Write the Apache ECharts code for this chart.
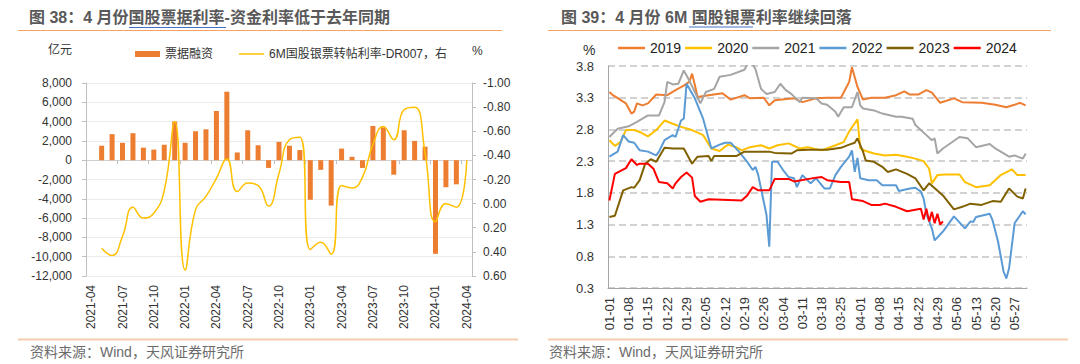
<!DOCTYPE html>
<html><head><meta charset="utf-8">
<script src="https://cdn.jsdelivr.net/npm/echarts@6/dist/echarts.min.js"></script>
<style>html,body{margin:0;padding:0;background:#fff}#c{width:1080px;height:364px}</style>
</head><body><div id="c"></div>
<script>
const FONT = "'Liberation Sans','Noto Sans CJK SC',sans-serif";

// ---------- Left chart (图38) ----------
const monthCats = ['2021-04','2021-05','2021-06','2021-07','2021-08','2021-09','2021-10','2021-11','2021-12',
  '2022-01','2022-02','2022-03','2022-04','2022-05','2022-06','2022-07','2022-08','2022-09','2022-10','2022-11','2022-12',
  '2023-01','2023-02','2023-03','2023-04','2023-05','2023-06','2023-07','2023-08','2023-09','2023-10','2023-11','2023-12',
  '2024-01','2024-02','2024-03','2024-04'];
// 票据融资 (亿元)
const billFinancing = [null,1500,2700,1800,2800,1300,1100,1600,4000,
  1800,3000,3200,5100,7100,800,3100,1550,-800,1900,1500,1050,
  -4100,-1000,-4700,1200,350,-800,3550,3400,-1500,3100,2000,1400,
  -9700,-2800,-2500,null];
// 6M国股银票转帖利率-DR007 (%)
const spreadRate = [null,0.37,0.43,0.27,0.03,0.12,0.08,-0.11,-0.68,
  0.55,0.05,-0.06,-0.21,-0.37,-0.10,-0.17,-0.15,0.02,-0.25,-0.53,-0.55,
  0.38,0.32,0.42,-0.15,-0.13,-0.22,-0.49,-0.64,-0.53,-0.78,-0.80,-0.42,
  0.15,0.00,0.03,-0.36];

// ---------- Right chart (图39) ----------
const s2019 = [['01-01',3.39],['01-02',3.35],['01-07',3.21],['01-09',3.05],['01-10',3.08],['01-11',3.21],['01-13',3.18],['01-15',3.21],['01-18',3.35],['01-22',3.34],['01-25',3.42],['01-28',3.49],['01-30',3.55],['01-31',3.68],['02-01',3.5],['02-02',3.31],['02-06',3.34],['02-11',3.37],['02-14',3.27],['02-19',3.34],['02-21',3.29],['02-26',3.3],['02-28',3.18],['03-01',3.26],['03-08',3.29],['03-11',3.23],['03-16',3.29],['03-20',3.3],['03-25',3.3],['03-28',3.55],['03-29',3.78],['03-31',3.47],['04-02',3.27],['04-05',3.3],['04-10',3.3],['04-14',3.34],['04-17',3.4],['04-19',3.35],['04-22',3.35],['04-25',3.42],['04-27',3.38],['04-30',3.22],['05-05',3.29],['05-08',3.23],['05-15',3.22],['05-20',3.19],['05-24',3.15],['05-27',3.19],['05-29',3.22],['05-31',3.18]];
const s2020 = [['01-01',2.63],['01-03',2.54],['01-05',2.6],['01-07',2.79],['01-10',2.79],['01-12',2.76],['01-15',2.69],['01-18',2.79],['01-21',2.94],['01-24',2.89],['01-27',2.84],['01-31',2.79],['02-04',2.71],['02-07',2.5],['02-10',2.46],['02-13',2.56],['02-16',2.52],['02-18',2.47],['02-21',2.52],['02-25',2.55],['02-28',2.5],['03-02',2.55],['03-06',2.58],['03-10',2.5],['03-13',2.52],['03-18',2.47],['03-23',2.55],['03-26',2.6],['03-28',2.77],['03-31',2.96],['04-01',2.5],['04-03',2.46],['04-06',2.42],['04-10',2.39],['04-14',2.4],['04-18',2.37],['04-21',2.34],['04-24',2.3],['04-26',2.18],['04-27',1.95],['04-29',2.08],['05-02',2.09],['05-07',2.09],['05-09',1.97],['05-13',1.89],['05-18',1.92],['05-22',2.08],['05-26',2.17],['05-28',2.08],['05-31',2.08]];
const s2021 = [['01-01',2.68],['01-04',2.81],['01-08',2.85],['01-11',2.92],['01-15',3.02],['01-19',3.02],['01-21',3.23],['01-22',3.55],['01-24',3.51],['01-26',3.52],['01-28',3.73],['01-30',3.57],['02-01',3.39],['02-03',3.21],['02-05',3.39],['02-08',3.44],['02-10',3.63],['02-14',3.66],['02-19',3.74],['02-21',3.9],['02-23',3.75],['02-25',3.44],['02-27',3.36],['03-01',3.39],['03-03',3.52],['03-05',3.42],['03-07',3.36],['03-10',3.23],['03-11',3.3],['03-16',3.29],['03-18',3.21],['03-20',3.19],['03-23',3.08],['03-24',3.0],['03-26',3.15],['03-29',3.15],['03-31',3.39],['04-01',3.18],['04-02',3.13],['04-06',3.1],['04-09',3.05],['04-14',3.0],['04-16',3.0],['04-20',2.97],['04-21',2.87],['04-25',2.71],['04-27',2.63],['04-28',2.66],['04-29',2.42],['05-01',2.5],['05-07',2.68],['05-10',2.66],['05-13',2.52],['05-18',2.57],['05-20',2.5],['05-25',2.37],['05-27',2.39],['05-30',2.34],['05-31',2.42]];
const s2022 = [['01-01',2.37],['01-04',2.45],['01-06',2.71],['01-08',2.61],['01-10',2.59],['01-12',2.47],['01-15',2.45],['01-18',2.39],['01-19',2.45],['01-21',2.63],['01-24',2.71],['01-25',2.68],['01-27',2.94],['01-28',2.97],['01-29',3.52],['02-01',3.29],['02-04',2.97],['02-07',2.5],['02-10',2.56],['02-12',2.59],['02-14',2.59],['02-17',2.45],['02-20',2.29],['02-22',2.16],['02-23',2.21],['02-24',2.08],['02-27',1.45],['02-28',0.95],['02-29',2.29],['03-02',2.29],['03-04',2.16],['03-06',2.05],['03-08',2.03],['03-09',1.89],['03-11',2.08],['03-14',1.95],['03-16',2.03],['03-19',1.87],['03-21',1.87],['03-23',2.08],['03-25',2.21],['03-28',2.37],['03-29',2.47],['03-30',2.13],['03-31',2.35],['04-01',2.03],['04-04',2.0],['04-07',2.0],['04-09',1.92],['04-14',1.92],['04-15',1.83],['04-19',1.87],['04-21',1.88],['04-23',1.82],['04-24',1.71],['04-25',1.47],['04-27',1.24],['04-28',1.05],['05-01',1.19],['05-05',1.43],['05-09',1.24],['05-11',1.35],['05-12',1.34],['05-13',1.42],['05-18',1.47],['05-19',1.37],['05-21',1.03],['05-23',0.56],['05-24',0.45],['05-25',0.61],['05-27',1.32],['05-30',1.51],['05-31',1.46]];
const s2023 = [['01-01',1.42],['01-03',1.44],['01-06',1.84],['01-09',1.89],['01-10',1.88],['01-12',2.0],['01-14',2.26],['01-16',2.33],['01-18',2.29],['01-21',2.51],['01-24',2.5],['01-28',2.5],['01-31',2.26],['02-02',2.37],['02-06',2.38],['02-07',2.3],['02-08',2.38],['02-16',2.38],['02-19',2.45],['02-23',2.45],['02-28',2.45],['03-01',2.43],['03-07',2.42],['03-09',2.47],['03-13',2.48],['03-20',2.48],['03-25',2.51],['03-28',2.56],['03-30',2.59],['03-31',2.66],['04-02',2.45],['04-03',2.31],['04-06',2.29],['04-09',2.21],['04-11',2.13],['04-14',2.17],['04-18',2.1],['04-21',2.03],['04-24',1.84],['04-26',1.95],['05-01',1.76],['05-05',1.54],['05-08',1.58],['05-11',1.63],['05-15',1.61],['05-19',1.67],['05-22',1.66],['05-25',1.87],['05-28',1.74],['05-30',1.71],['05-31',1.87]];
const s2024 = [['01-01',1.68],['01-03',2.1],['01-07',2.19],['01-09',2.33],['01-11',2.24],['01-12',2.26],['01-15',2.26],['01-17',2.18],['01-19',1.97],['01-22',1.95],['01-24',1.87],['01-25',1.95],['01-27',2.05],['01-29',2.12],['01-31',2.04],['02-01',1.75],['02-03',1.66],['02-06',1.7],['02-18',1.68],['02-20',1.76],['02-22',1.89],['02-24',1.84],['02-28',1.84],['03-01',2.02],['03-06',2.02],['03-08',1.98],['03-16',2.04],['03-18',2.05],['03-20',2.0],['03-25',1.97],['03-28',1.97],['03-29',1.7],['04-02',1.67],['04-04',1.63],['04-05',1.61],['04-08',1.61],['04-10',1.63],['04-14',1.58],['04-18',1.51],['04-23',1.55],['04-24',1.38],['04-25',1.55],['04-26',1.35],['04-27',1.50],['04-28',1.32],['04-29',1.47],['04-30',1.30],['05-01',1.35]];
const yearNames = ['2019','2020','2021','2022','2023','2024'];
const yearColors = ['#ED7D31','#FFC000','#A5A5A5','#5B9BD5','#806000','#FF0000'];
const yearData = [s2019,s2020,s2021,s2022,s2023,s2024];

// day categories 01-01 .. 05-31 (leap-year calendar)
const dayCats = [];
for (let t = Date.UTC(2024,0,1); t <= Date.UTC(2024,4,31); t += 86400000) {
  const d = new Date(t);
  dayCats.push(String(d.getUTCMonth()+1).padStart(2,'0') + '-' + String(d.getUTCDate()).padStart(2,'0'));
}

const commas = v => String(v).replace(/\B(?=(\d{3})+(?!\d))/g, ',');
const fix = n => v => (Math.abs(v) < 1e-9 ? 0 : v).toFixed(n);
const LBL = '#333';
const LINE_NAME = '6M国股银票转帖利率-DR007，右';

const chart = echarts.init(document.getElementById('c'), null, {renderer: 'svg'});
chart.setOption({
  animation: false,
  textStyle: {fontFamily: FONT},
  grid: [
    {left: 86, top: 83, width: 386, height: 193},
    {left: 608, top: 66, width: 419, height: 222}
  ],
  legend: [
    {left: 130, top: 43, itemWidth: 25, itemHeight: 6,
     textStyle: {fontSize: 12, color: '#333', fontFamily: FONT},
     data: [{name: '票据融资', icon: 'rect'}]},
    {left: 234, top: 43, itemWidth: 25, itemHeight: 1.5,
     textStyle: {fontSize: 12, color: '#333', fontFamily: FONT},
     data: [{name: LINE_NAME, icon: 'rect'}]},
    {left: 613, top: 36, itemWidth: 27, itemHeight: 2.5, itemGap: 4,
     textStyle: {fontSize: 14, color: '#222', fontFamily: FONT},
     data: yearNames.map(n => ({name: n, icon: 'rect'}))}
  ],
  xAxis: [
    {gridIndex: 0, type: 'category', data: monthCats, position: 'bottom',
     axisLine: {show: false, onZero: false}, axisTick: {show: false},
     axisLabel: {interval: 2, rotate: 90, margin: 9, fontSize: 12, color: LBL}},
    {gridIndex: 0, type: 'category', data: monthCats, position: 'top',
     axisLine: {show: true, onZero: true, onZeroAxisIndex: 0, lineStyle: {color: '#D0D0D0', width: 1}},
     axisTick: {show: true, interval: 2, inside: true, length: 4, lineStyle: {color: '#BFBFBF'}},
     axisLabel: {show: false}},
    {gridIndex: 1, type: 'category', data: dayCats, boundaryGap: true,
     axisLine: {lineStyle: {color: '#A6A6A6', width: 1}}, axisTick: {show: false},
     axisLabel: {interval: 6, rotate: 90, margin: 9, fontSize: 13, color: LBL}}
  ],
  yAxis: [
    {gridIndex: 0, type: 'value', min: -12000, max: 8000, interval: 2000,
     axisLine: {show: true, lineStyle: {color: '#BFBFBF'}},
     axisTick: {show: true, length: 4, lineStyle: {color: '#BFBFBF'}},
     splitLine: {lineStyle: {color: '#EBEBEB', width: 1}},
     axisLabel: {fontSize: 12, color: LBL, margin: 14, formatter: commas}},
    {gridIndex: 0, type: 'value', position: 'right', inverse: true, min: -1, max: 0.6, interval: 0.2,
     axisLine: {show: true, lineStyle: {color: '#BFBFBF'}},
     axisTick: {show: true, length: 4, lineStyle: {color: '#BFBFBF'}},
     splitLine: {show: false},
     axisLabel: {fontSize: 12, color: LBL, margin: 11, formatter: fix(2)}},
    {gridIndex: 1, type: 'value', min: 0.3, max: 3.8, interval: 0.5,
     axisLine: {show: true, lineStyle: {color: '#A6A6A6'}},
     axisTick: {show: false},
     splitLine: {lineStyle: {color: '#C4C4C4', type: [7, 4], width: 1.5}},
     axisLabel: {fontSize: 13, color: LBL, margin: 14, formatter: fix(1)}}
  ],
  series: [
    {name: '票据融资', type: 'bar', xAxisIndex: 0, yAxisIndex: 0, data: billFinancing,
     barWidth: 5, itemStyle: {color: '#ED7D31'}},
    {name: LINE_NAME, type: 'line', xAxisIndex: 0, yAxisIndex: 1, data: spreadRate,
     smooth: 0.5, symbol: 'none', lineStyle: {color: '#FFC000', width: 1.5}, itemStyle: {color: '#FFC000'}}
  ].concat(yearNames.map((n, i) => ({
    name: n, type: 'line', xAxisIndex: 2, yAxisIndex: 2, data: yearData[i], symbol: 'none',
    lineStyle: {color: yearColors[i], width: 2}, itemStyle: {color: yearColors[i]}
  }))),
  graphic: [
    {type: 'text', x: 29, y: 17, style: {text: '图 38：4 月份国股票据利率-资金利率低于去年同期', font: 'bold 16px ' + FONT, fill: '#595959', verticalAlign: 'middle'}},
    {type: 'line', shape: {x1: 129, y1: 27.5, x2: 226, y2: 27.5}, style: {stroke: '#4472C4', lineWidth: 1}},
    {type: 'line', shape: {x1: 18, y1: 30.5, x2: 502, y2: 30.5}, style: {stroke: '#F4A460', lineWidth: 1}},
    {type: 'text', x: 48, y: 50, style: {text: '亿元', font: '12px ' + FONT, fill: '#333', verticalAlign: 'middle'}},
    {type: 'text', x: 472, y: 51, style: {text: '%', font: '12px ' + FONT, fill: '#333', verticalAlign: 'middle'}},
    {type: 'line', shape: {x1: 18, y1: 339.5, x2: 518, y2: 339.5}, style: {stroke: '#F8CBAD', lineWidth: 2}},
    {type: 'text', x: 30, y: 352, style: {text: '资料来源：Wind，天风证券研究所', font: '14px ' + FONT, fill: '#6B6B6B', verticalAlign: 'middle'}},

    {type: 'text', x: 561, y: 17, style: {text: '图 39：4 月份 6M 国股银票利率继续回落', font: 'bold 16px ' + FONT, fill: '#595959', verticalAlign: 'middle'}},
    {type: 'line', shape: {x1: 689, y1: 27, x2: 753, y2: 27}, style: {stroke: '#4472C4', lineWidth: 1}},
    {type: 'line', shape: {x1: 548, y1: 30.5, x2: 1051, y2: 30.5}, style: {stroke: '#F4A460', lineWidth: 1}},
    {type: 'text', x: 583, y: 50, style: {text: '%', font: '14px ' + FONT, fill: '#333', verticalAlign: 'middle'}},
    {type: 'line', shape: {x1: 548, y1: 339.5, x2: 1068, y2: 339.5}, style: {stroke: '#F8CBAD', lineWidth: 2}},
    {type: 'text', x: 549, y: 352, style: {text: '资料来源：Wind，天风证券研究所', font: '14px ' + FONT, fill: '#6B6B6B', verticalAlign: 'middle'}}
  ]
});
</script>
</body></html>
